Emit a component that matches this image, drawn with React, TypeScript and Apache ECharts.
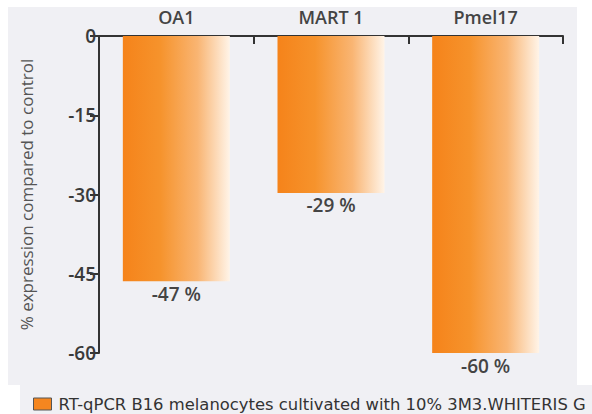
import React, { useEffect, useRef } from "react";
import * as echarts from "echarts";

const categories = ["OA1", "MART 1", "Pmel17"];
const values = [-46.4, -29.7, -60];
const valueLabels = ["-47 %", "-29 %", "-60 %"];
const yTicks = [0, -15, -30, -45, -60];
const seriesName = "RT-qPCR B16 melanocytes cultivated with 10% 3M3.WHITERIS G";
const yAxisName = "% expression compared to control";

export default function App() {
  const ref = useRef<HTMLDivElement>(null);
  useEffect(() => {
    if (!ref.current) return;
    const chart = echarts.init(ref.current, null, { renderer: "svg" });
    const gradient = new echarts.graphic.LinearGradient(0, 0, 1, 0, [
      { offset: 0, color: "#f5831a" },
      { offset: 0.35, color: "#f6932c" },
      { offset: 0.7, color: "#f9b573" },
      { offset: 1, color: "#fff4e8" },
    ]);
    chart.setOption({
      animation: false,
      backgroundColor: "#ffffff",
      textStyle: { fontFamily: "Open Sans" },
      graphic: [
        { type: "rect", z: -10, silent: true, shape: { x: 8, y: 7, width: 569, height: 378 }, style: { fill: "#f0f0f4" } },
        { type: "rect", z: -10, silent: true, shape: { x: 20, y: 385, width: 572, height: 29 }, style: { fill: "#f0f0f4" } },
      ],
      grid: { left: 99, top: 36, width: 464, height: 317, containLabel: false },
      legend: {
        left: 28,
        top: 391,
        itemWidth: 18,
        itemHeight: 12,
        itemGap: 8,
        icon: "rect",
        data: [
          {
            name: seriesName,
            itemStyle: { color: "#f5861f", borderColor: "#555", borderWidth: 1 },
          },
        ],
        textStyle: { fontFamily: "DejaVu Sans", fontSize: 16.4, color: "#333", padding: [0, 0, 0, 2] },
      },
      xAxis: {
        type: "category",
        position: "top",
        data: categories,
        axisLine: { show: true, onZero: false, lineStyle: { color: "#333", width: 2 } },
        axisTick: { show: true, inside: true, length: 8, lineStyle: { color: "#333", width: 2 } },
        axisLabel: { fontSize: 18, fontWeight: 600, color: "#444", margin: 10 },
      },
      yAxis: {
        type: "value",
        min: -60,
        max: 0,
        interval: 15,
        name: yAxisName,
        nameLocation: "middle",
        nameGap: 64,
        nameRotate: 90,
        nameTextStyle: { fontSize: 17, color: "#555" },
        axisLine: { show: true, lineStyle: { color: "#333", width: 2 } },
        axisTick: { show: true, length: 9, lineStyle: { color: "#333", width: 2 } },
        axisLabel: {
          fontSize: 19,
          fontWeight: 600,
          color: "#3a3a3a",
          margin: 3,
          formatter: (v: number) => (yTicks.includes(v) ? String(v) : ""),
        },
        splitLine: { show: false },
      },
      series: [
        {
          name: seriesName,
          type: "bar",
          data: values,
          barWidth: 107,
          itemStyle: { color: gradient },
          label: {
            show: true,
            position: "bottom",
            distance: 3,
            fontSize: 19,
            fontWeight: 600,
            color: "#444",
            formatter: (p: any) => valueLabels[p.dataIndex],
          },
        },
      ],
    });
    return () => chart.dispose();
  }, []);
  return <div ref={ref} style={{ position: "absolute", left: 0, top: 0, width: 592, height: 414 }} />;
}
